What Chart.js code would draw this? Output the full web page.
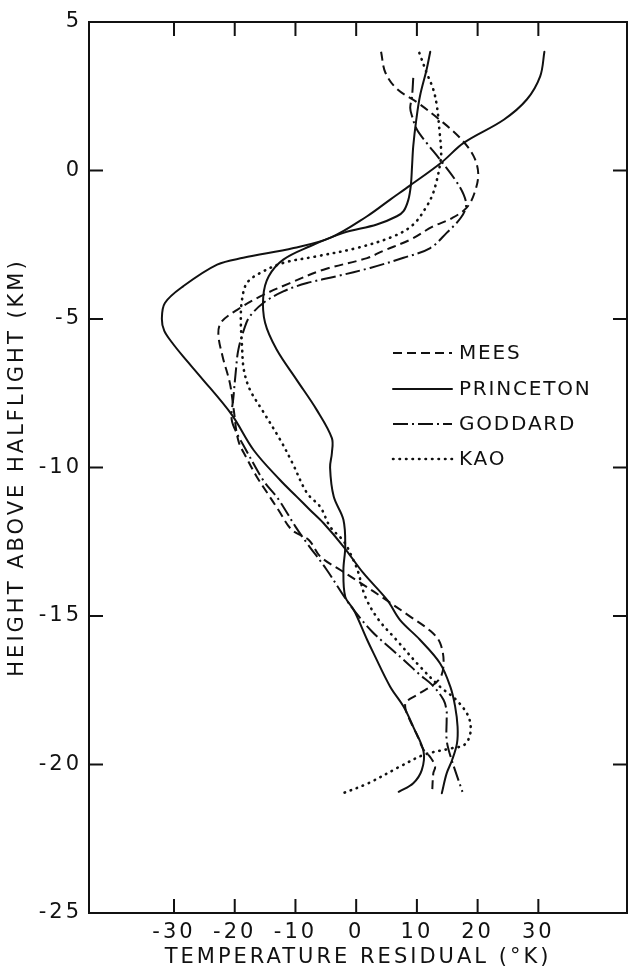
<!DOCTYPE html>
<html>
<head>
<meta charset="utf-8">
<script src="https://cdn.jsdelivr.net/npm/chart.js@4.4.1/dist/chart.umd.min.js"></script>
<style>
  html, body { margin: 0; padding: 0; background: #fff; }
  #wrap { width: 628px; height: 968px; }
</style>
</head>
<body>
<div id="wrap"><canvas id="chart" width="628" height="968"></canvas></div>
<script>
// tick labels
const xTicks = [-30, -20, -10, 0, 10, 20, 30];
const yTicks = [5, 0, -5, -10, -15, -20, -25];

// MEES (dashed)
const meesTemp = [4.1, 4.8, 6.7, 10.0, 13.8, 17.1, 19.3, 20.1, 19.5, 18.2, 15.8, 12.5, 8.9, 4.5, 1.8, -5.4, -10.9, -15.8, -19.6, -22.2, -22.7, -22.0, -20.8, -20.2, -19.4, -18.0, -16.4, -14.5, -12.8, -10.6, -7.8, -5.9, -2.6, 1.2, 4.5, 8.9, 12.2, 13.8, 14.4, 13.6, 10.0, 8.2, 8.1, 8.6, 10.0, 11.1, 12.2, 13.0, 12.7, 12.5];
const meesHeight = [4.0, 3.3, 2.75, 2.3, 1.7, 1.1, 0.5, -0.1, -0.75, -1.25, -1.6, -1.9, -2.33, -2.7, -2.95, -3.34, -3.79, -4.24, -4.69, -5.1, -5.5, -6.26, -7.16, -8.0, -9.1, -9.7, -10.3, -10.9, -11.43, -12.1, -12.44, -13.0, -13.45, -13.95, -14.4, -15.02, -15.5, -15.9, -16.6, -17.15, -17.66, -17.9, -18.1, -18.4, -19.0, -19.5, -19.75, -20.07, -20.3, -21.0];

// PRINCETON (solid, long curve)
const princetonTemp = [31.0, 30.3, 28.1, 24.3, 17.7, 14.1, 8.9, 5.6, 1.8, -4.3, -10.3, -18.6, -22.9, -28.5, -31.5, -32.0, -31.6, -30.3, -28.5, -25.7, -20.5, -16.9, -12.5, -9.8, -7.6, -5.4, -2.1, 1.2, 5.1, 7.2, 10.5, 13.8, 15.5, 16.3, 16.7, 16.6, 15.8, 14.9, 14.1];
const princetonHeight = [4.0, 3.17, 2.39, 1.71, 0.93, 0.28, -0.5, -0.98, -1.54, -2.27, -2.61, -2.94, -3.17, -3.9, -4.46, -5.0, -5.4, -5.8, -6.26, -6.93, -8.22, -9.41, -10.43, -10.98, -11.43, -11.87, -12.66, -13.56, -14.46, -15.13, -15.8, -16.59, -17.38, -18.05, -18.73, -19.29, -19.85, -20.3, -20.97];

// second solid curve (no legend entry)
const princeton2Temp = [12.2, 11.6, 10.5, 9.9, 9.4, 9.2, 9.0, 8.6, 7.8, 6.7, 3.4, -2.1, -7.6, -12.0, -14.4, -15.3, -15.0, -13.1, -9.8, -6.5, -4.0, -4.0, -4.3, -3.7, -2.1, -1.8, -2.1, -1.8, -0.4, 1.8, 2.85, 5.6, 7.8, 9.4, 11.1, 10.8, 9.4, 7.0];
const princeton2Height = [4.0, 3.4, 2.5, 1.71, 0.82, 0.14, -0.5, -0.98, -1.37, -1.54, -1.82, -2.1, -2.55, -3.0, -3.56, -4.24, -5.13, -6.03, -7.05, -8.06, -9.01, -9.51, -10.0, -10.98, -11.76, -12.66, -13.45, -14.35, -14.79, -15.8, -16.25, -17.38, -18.05, -18.73, -19.57, -20.19, -20.63, -20.92];

// GODDARD (dash-dot)
const goddardTemp = [9.4, 9.2, 8.9, 9.2, 10.0, 11.6, 13.8, 16.3, 17.7, 18.1, 17.2, 14.9, 12.2, 7.8, 2.3, -3.2, -8.1, -12.0, -15.3, -17.5, -18.3, -19.4, -19.8, -20.2, -20.5, -19.4, -18.6, -15.3, -12.8, -10.0, -8.1, -5.0, -1.8, -0.4, 2.6, 5.6, 8.1, 10.5, 12.5, 14.4, 14.9, 14.9, 14.9, 15.5, 17.5];
const goddardHeight = [3.12, 2.5, 2.11, 1.83, 1.38, 0.93, 0.37, -0.31, -0.81, -1.2, -1.6, -2.1, -2.61, -2.94, -3.28, -3.56, -3.79, -4.07, -4.46, -4.91, -5.25, -6.03, -6.71, -7.61, -8.39, -8.95, -9.24, -10.43, -11.07, -11.99, -12.55, -13.4, -14.4, -14.8, -15.52, -16.08, -16.53, -16.98, -17.32, -17.83, -18.22, -18.5, -19.17, -19.7, -20.92];

// KAO (dotted)
const kaoTemp = [10.4, 11.6, 12.7, 13.3, 13.7, 14.0, 13.8, 13.3, 12.6, 11.6, 9.4, 6.1, 0.1, -6.5, -12.0, -15.8, -18.0, -18.8, -19.0, -18.8, -18.5, -17.5, -15.5, -12.5, -10.5, -8.1, -5.9, -4.3, -2.0, -0.5, 0.3, 1.5, 3.6, 6.6, 10.5, 13.8, 16.5, 18.5, 18.8, 17.8, 15.8, 11.2, 7.2, 2.0, -2.6];
const kaoHeight = [3.96, 3.29, 2.73, 2.16, 1.38, 0.59, 0.2, -0.31, -0.8, -1.21, -1.82, -2.22, -2.61, -2.89, -3.11, -3.45, -3.79, -4.35, -5.0, -5.92, -6.71, -7.38, -8.06, -9.07, -9.85, -10.86, -11.33, -11.99, -12.5, -13.1, -13.5, -14.35, -15.1, -15.8, -16.7, -17.38, -17.83, -18.39, -18.95, -19.34, -19.45, -19.67, -20.07, -20.63, -21.0];

const FONT = '"DejaVu Sans", sans-serif';

function toPoints(xs, ys) {
  return xs.map((x, i) => ({ x: x, y: ys[i] }));
}

function series(label, xs, ys, dash, cap, width, inLegend) {
  return {
    label: label,
    data: toPoints(xs, ys),
    showLine: true,
    borderColor: '#111',
    borderWidth: width,
    borderDash: dash,
    borderCapStyle: cap,
    pointRadius: 0,
    tension: 0.35,
    inLegend: inLegend
  };
}

// inward ticks on all four sides plus the top and right frame lines
const frameTicks = {
  id: 'frameTicks',
  afterDraw(chart) {
    const { ctx, chartArea: a, scales } = chart;
    const len = 14;
    ctx.save();
    ctx.strokeStyle = '#111';
    ctx.lineWidth = 2;
    ctx.beginPath();
    ctx.moveTo(a.left, a.top);
    ctx.lineTo(a.right, a.top);
    ctx.lineTo(a.right, a.bottom);
    xTicks.forEach(v => {
      const px = scales.x.getPixelForValue(v);
      ctx.moveTo(px, a.bottom);
      ctx.lineTo(px, a.bottom - len);
      ctx.moveTo(px, a.top);
      ctx.lineTo(px, a.top + len);
    });
    yTicks.slice(1, -1).forEach(v => {
      const py = scales.y.getPixelForValue(v);
      ctx.moveTo(a.left, py);
      ctx.lineTo(a.left + len, py);
      ctx.moveTo(a.right, py);
      ctx.lineTo(a.right - len, py);
    });
    ctx.stroke();
    ctx.restore();
  }
};

const insideLegend = {
  id: 'insideLegend',
  afterDatasetsDraw(chart) {
    const ctx = chart.ctx;
    const rows = [353, 389, 424, 459];
    chart.data.datasets.filter(d => d.inLegend).forEach((ds, i) => {
      const y = rows[i];
      ctx.save();
      ctx.strokeStyle = ds.borderColor;
      ctx.lineWidth = ds.borderWidth;
      ctx.lineCap = ds.borderCapStyle;
      ctx.setLineDash(ds.borderDash);
      ctx.beginPath();
      ctx.moveTo(393, y);
      ctx.lineTo(452, y);
      ctx.stroke();
      ctx.setLineDash([]);
      ctx.fillStyle = '#111';
      ctx.font = '20px ' + FONT;
      ctx.letterSpacing = '1.8px';
      ctx.textBaseline = 'middle';
      ctx.textAlign = 'left';
      ctx.fillText(ds.label, 459, y + 1);
      ctx.restore();
    });
  }
};

const spacing = {
  id: 'spacing',
  beforeDraw(chart) { chart.ctx.letterSpacing = '3px'; }
};

new Chart(document.getElementById('chart'), {
  type: 'scatter',
  data: {
    datasets: [
      series('MEES', meesTemp, meesHeight, [9, 5], 'butt', 2, true),
      series('PRINCETON', princetonTemp, princetonHeight, [], 'round', 2, true),
      series('GODDARD', goddardTemp, goddardHeight, [15, 4, 2, 4], 'butt', 2, true),
      series('KAO', kaoTemp, kaoHeight, [0.5, 6], 'round', 2.6, true),
      series('PRINCETON', princeton2Temp, princeton2Height, [], 'round', 2, false)
    ]
  },
  options: {
    responsive: false,
    devicePixelRatio: 1,
    animation: false,
    layout: { padding: { top: 22, right: 1, left: 0, bottom: 0 } },
    plugins: {
      legend: { display: false },
      tooltip: { enabled: false }
    },
    scales: {
      x: {
        type: 'linear',
        min: -44,
        max: 44.6,
        afterBuildTicks: s => { s.ticks = xTicks.map(v => ({ value: v })); },
        afterFit: s => { s.height = 55; },
        grid: { display: false, drawTicks: false },
        border: { display: true, color: '#111', width: 2 },
        ticks: { color: '#111', font: { family: FONT, size: 21 }, padding: 7, maxRotation: 0, autoSkip: false },
        title: {
          display: true,
          text: 'TEMPERATURE RESIDUAL (°K)',
          color: '#111',
          font: { family: FONT, size: 21, lineHeight: 1 },
          padding: { top: 0, bottom: 0 }
        }
      },
      y: {
        type: 'linear',
        min: -25,
        max: 5,
        afterBuildTicks: s => { s.ticks = yTicks.map(v => ({ value: v })); },
        afterFit: s => { s.width = 89; },
        grid: { display: false, drawTicks: false },
        border: { display: true, color: '#111', width: 2 },
        ticks: { color: '#111', font: { family: FONT, size: 21 }, padding: 7, autoSkip: false },
        title: {
          display: true,
          text: 'HEIGHT ABOVE HALFLIGHT (KM)',
          color: '#111',
          font: { family: FONT, size: 21, lineHeight: 1 },
          padding: { top: 7, bottom: 0 }
        }
      }
    }
  },
  plugins: [spacing, frameTicks, insideLegend]
});
</script>
</body>
</html>
